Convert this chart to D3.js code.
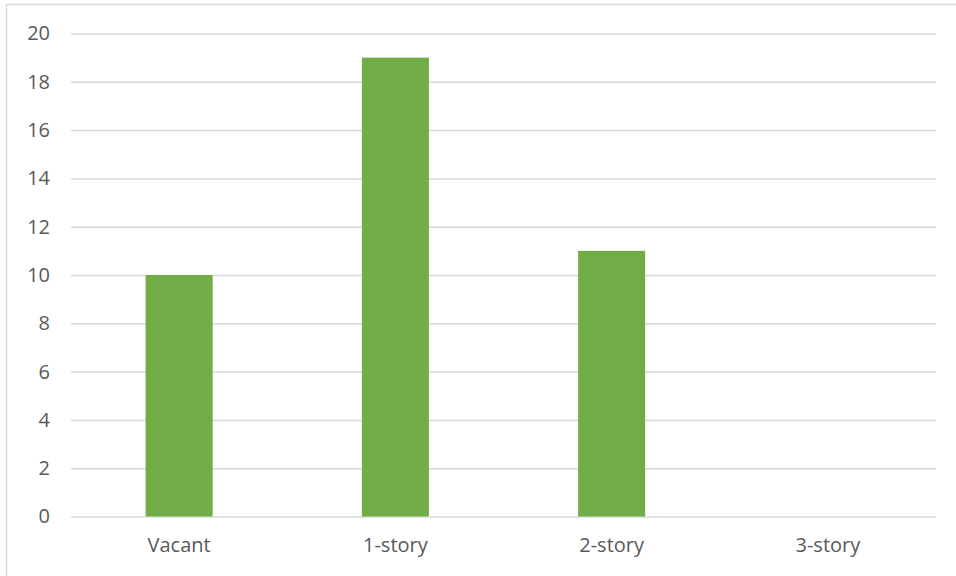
<!DOCTYPE html>
<html>
<head>
<meta charset="utf-8">
<script src="https://cdn.jsdelivr.net/npm/d3@7"></script>
<style>
  body { margin: 0; background: #fff; }
  text { font-family: "Open Sans", "Liberation Sans", sans-serif; fill: #595959; }
</style>
</head>
<body>
<script>
// chart data
var categories = ["Vacant", "1-story", "2-story", "3-story"];
var counts = [10, 19, 11, 0];
var yTicks = [0, 2, 4, 6, 8, 10, 12, 14, 16, 18, 20];

var w = 956, h = 576;
var svg = d3.select("body").append("svg")
    .attr("width", w)
    .attr("height", h);

//chart frame, runs off the right and bottom edges
svg.append("rect")
    .attr("x", 6.5)
    .attr("y", 4.5)
    .attr("width", 1000)
    .attr("height", 1000)
    .style("fill", "none")
    .style("stroke", "#d9d9d9")
    .style("stroke-width", 1.5);

//plot area edges (top is a window global, so use other names)
var plotL = 71, plotR = 936, plotT = 33.5, plotB = 516.5;

var x = d3.scaleBand()
    .domain(categories)
    .range([plotL, plotR])
    .paddingInner(0.69)
    .paddingOuter(0.345);

var y = d3.scaleLinear()
    .domain([0, 20])
    .range([plotB, plotT]);

//gridlines + y labels
var yAxis = d3.axisLeft(y)
    .tickValues(yTicks)
    .tickSize(-(plotR - plotL))
    .tickPadding(21);

var gy = svg.append("g")
    .attr("transform", "translate(" + plotL + ",0)")
    .call(yAxis);
gy.select(".domain").remove();
gy.selectAll("line")
    .style("stroke", "#d9d9d9")
    .style("stroke-width", 1.5);
gy.selectAll("text")
    .style("font-size", "20px")
    .style("fill", "#595959");

//bars
svg.selectAll(".bar")
    .data(counts)
    .enter()
    .append("rect")
    .attr("class", "bar")
    .attr("x", function(d, i){ return x(categories[i]); })
    .attr("width", x.bandwidth())
    .attr("y", function(d){ return y(d); })
    .attr("height", function(d){ return plotB - y(d); })
    .style("fill", "#70ad47");

//x axis labels
var xAxis = d3.axisBottom(x).tickSize(0).tickPadding(21);
var gx = svg.append("g")
    .attr("transform", "translate(0," + plotB + ")")
    .call(xAxis);
gx.select(".domain").remove();
gx.selectAll("text")
    .style("font-size", "20px")
    .style("fill", "#595959");
</script>
</body>
</html>
